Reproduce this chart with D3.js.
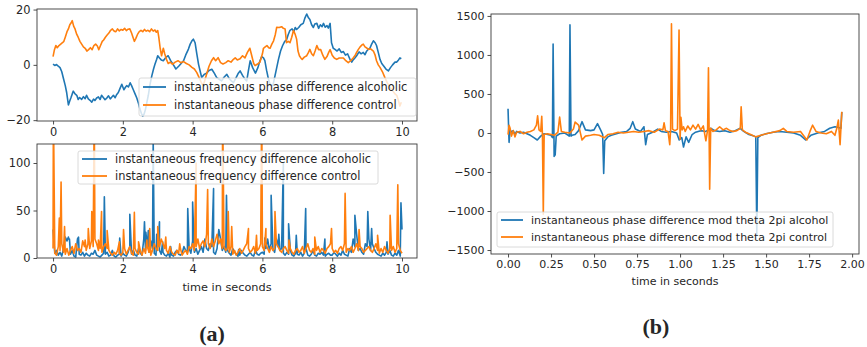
<!DOCTYPE html>
<html>
<head>
<meta charset="utf-8">
<script src="https://cdnjs.cloudflare.com/ajax/libs/d3/7.8.5/d3.min.js"></script>
<style>
body { margin: 0; background: #fff; }
text { font-family: "DejaVu Sans", sans-serif; fill: #262626; }
</style>
</head>
<body>
<div id="chart"></div>
<script>
var BLUE = "#1f77b4", ORANGE = "#ff7f0e"

// (a) top: instantaneous phase difference, [time s, value]
var phaseAlc = [[0,0.3],[0.05,-0.2],[0.1,0.1],[0.15,-0.5],[0.2,-1],[0.25,-2.5],[0.3,-5],[0.35,-7.5],[0.39,-10],[0.44,-14.5],[0.48,-13],[0.51,-12],[0.55,-10.5],[0.58,-9.5],[0.63,-10.5],[0.68,-11],[0.72,-12.5],[0.76,-11.8],[0.82,-12.5],[0.87,-11.5],[0.92,-12.2],[0.96,-11],[1.01,-12.3],[1.06,-12.8],[1.11,-13.5],[1.16,-12.4],[1.2,-12.9],[1.25,-12],[1.3,-11.6],[1.35,-12.5],[1.39,-11],[1.44,-11.8],[1.49,-12.6],[1.54,-12],[1.59,-11.2],[1.64,-12.3],[1.68,-11.7],[1.73,-11],[1.78,-11.9],[1.82,-10.8],[1.87,-10],[1.92,-8.5],[1.97,-7],[2.0,-8],[2.03,-9],[2.07,-8.2],[2.11,-7.5],[2.16,-8],[2.21,-6.5],[2.25,-7.5],[2.3,-9],[2.35,-10.5],[2.4,-12],[2.45,-14],[2.49,-16],[2.53,-17.5],[2.57,-18.5],[2.61,-17.8],[2.65,-16],[2.69,-13.5],[2.73,-11],[2.78,-7],[2.83,-4],[2.88,-1.5],[2.92,0.2],[2.97,2],[3.0,3.3],[3.05,2.5],[3.1,1.8],[3.16,1.5],[3.22,2.5],[3.3,3.3],[3.37,1.5],[3.45,0],[3.52,-1.5],[3.6,-0.5],[3.67,0.5],[3.74,1.5],[3.8,3.5],[3.88,5.7],[3.93,7.5],[3.98,8.7],[4.02,9.3],[4.07,8],[4.12,4],[4.17,0.2],[4.22,-2.5],[4.26,-4.6],[4.33,-3.5],[4.4,-3],[4.47,-2],[4.55,-1.6],[4.62,-3],[4.69,-4.6],[4.76,-5.2],[4.83,-5.8],[4.9,-4.5],[4.98,-3.4],[5.05,-5],[5.11,-5.8],[5.17,-6.4],[5.25,-4.5],[5.31,-3],[5.36,-2.2],[5.43,-3.8],[5.49,-5],[5.55,-5.8],[5.6,-2],[5.65,1.5],[5.72,-1],[5.8,-3],[5.87,-1],[5.93,1.5],[5.98,3],[6.03,2.5],[6.07,1.5],[6.12,-2],[6.17,-5],[6.22,-7],[6.3,-7.5],[6.36,-4],[6.41,-1],[6.46,2],[6.52,5],[6.58,7],[6.64,8.5],[6.69,9],[6.74,11],[6.79,12.5],[6.85,13],[6.9,12],[6.94,13.5],[6.98,12.8],[7.04,13.5],[7.1,14.5],[7.17,15],[7.22,17],[7.27,18.4],[7.32,17],[7.36,16.4],[7.41,14.5],[7.46,13.5],[7.5,14.8],[7.56,15],[7.61,13.2],[7.66,14.5],[7.71,13.8],[7.75,15],[7.8,13.6],[7.85,14.2],[7.89,13.3],[7.94,15],[7.98,8],[8.03,6],[8.08,5.6],[8.14,5],[8.2,5.8],[8.26,4.5],[8.32,4.8],[8.38,3.5],[8.44,4],[8.51,2],[8.56,1],[8.6,1.8],[8.65,2.5],[8.7,3.3],[8.77,4.7],[8.83,4],[8.89,4.5],[8.94,3.7],[8.98,4.8],[9.03,5.6],[9.08,6],[9.13,7.5],[9.18,8.7],[9.23,8],[9.27,7],[9.32,4.5],[9.37,2],[9.42,0.5],[9.47,-0.3],[9.54,-1.5],[9.61,-2.2],[9.67,-1],[9.73,0],[9.8,1],[9.85,1],[9.9,1.8],[9.94,2.5],[9.98,2.2]]

var phaseCtl = [[0,3],[0.04,5.5],[0.08,7],[0.12,6.2],[0.17,7],[0.22,7.5],[0.27,8],[0.31,8.5],[0.35,10],[0.4,12],[0.44,13],[0.48,14.5],[0.52,15.2],[0.55,16],[0.59,14],[0.63,13],[0.68,11],[0.72,10],[0.77,8.5],[0.82,7.5],[0.87,6.5],[0.92,6],[0.97,5],[1.02,5.5],[1.07,6.2],[1.12,5.5],[1.17,7],[1.22,7.5],[1.27,6.8],[1.31,5.5],[1.36,7],[1.41,8.5],[1.45,9],[1.5,10],[1.55,10.8],[1.6,11.5],[1.65,12.5],[1.7,13],[1.75,12.2],[1.8,12],[1.85,13],[1.9,12.3],[1.95,12.8],[2.0,12.5],[2.05,13.2],[2.1,12.4],[2.15,12.9],[2.2,13],[2.25,11.5],[2.29,10],[2.33,8.5],[2.37,9.5],[2.42,11],[2.47,12],[2.52,12.5],[2.57,12],[2.62,12.8],[2.67,12.2],[2.72,12.5],[2.77,12],[2.82,13],[2.87,12.2],[2.92,12.6],[2.96,11.8],[3.0,12.4],[3.03,10],[3.07,6],[3.11,3.3],[3.16,6],[3.2,4],[3.25,2],[3.3,0.5],[3.36,1],[3.42,0.2],[3.5,1],[3.58,1.5],[3.66,0.8],[3.74,1.2],[3.82,0.5],[3.9,0],[3.98,-0.9],[4.05,-1.5],[4.12,-2.8],[4.2,-5],[4.27,-7],[4.33,-6.5],[4.4,-3.4],[4.47,-0.5],[4.54,1.5],[4.6,2.6],[4.66,1.5],[4.73,2.6],[4.8,0.8],[4.87,0.3],[4.95,0.8],[5.02,1.5],[5.1,1],[5.17,2],[5.22,2.5],[5.28,1.8],[5.36,2.2],[5.43,3.3],[5.5,2.5],[5.57,4.5],[5.64,6],[5.7,3],[5.75,0.5],[5.79,-0.3],[5.86,0.3],[5.93,1],[6.0,4],[6.03,6],[6.08,6.5],[6.13,7],[6.18,6.2],[6.22,6],[6.27,7.5],[6.32,8.7],[6.37,11],[6.41,13.6],[6.48,13.5],[6.55,13.8],[6.6,13.2],[6.65,13],[6.69,8],[6.74,8.5],[6.79,8],[6.84,10],[6.89,12.4],[6.94,11],[6.98,9.3],[7.02,5],[7.06,3.3],[7.1,2.5],[7.14,2],[7.2,2.8],[7.27,3.3],[7.32,4.5],[7.36,5.6],[7.41,4],[7.46,3.3],[7.51,5],[7.56,7],[7.61,5.5],[7.67,5.5],[7.73,3.5],[7.79,2],[7.85,3],[7.9,4.5],[7.94,5.5],[8.0,3.5],[8.06,2.5],[8.13,2],[8.2,2.5],[8.26,2.5],[8.32,2.5],[8.39,1.5],[8.46,0.8],[8.53,1.5],[8.6,2.5],[8.66,3.5],[8.7,4.5],[8.75,5.6],[8.8,6.5],[8.85,7.2],[8.89,7.5],[8.94,6.5],[9.0,6],[9.04,5.6],[9.1,5.8],[9.18,5],[9.23,3.5],[9.27,1.5],[9.32,0],[9.37,-0.9],[9.44,-2.5],[9.51,-4.6],[9.58,-6.5],[9.66,-8.2],[9.74,-9.5],[9.8,-10.5],[9.85,-11],[9.9,-13],[9.94,-14.9],[9.98,-13.5]]

// (a) bottom: instantaneous frequency difference
// small background values, one every 0.05 s from 0 to 10 s
var FREQ_STEP = 0.05
var freqAlcBase = [
    30,5,8,3,6,2,10,22,18,20,4,8,2,1,20,4,3,6,2,5,
    3,2,5,4,8,3,2,1,3,5,4,6,2,3,8,2,1,3,4,2,
    5,3,2,6,12,4,8,3,2,10,5,3,20,8,12,6,18,10,5,3,
    12,8,4,6,3,2,5,1,3,2,6,8,4,3,5,12,8,6,10,5,
    18,6,10,4,8,12,6,20,10,8,15,12,6,4,10,30,20,8,12,6,
    8,5,3,10,6,4,2,3,8,5,3,2,4,6,3,2,8,4,3,5,
    6,4,10,20,8,15,10,6,20,12,8,10,5,3,6,4,8,3,2,5,
    4,3,6,2,5,10,3,2,4,8,3,2,5,4,6,3,2,4,5,3,
    3,6,4,2,5,3,8,4,3,2,10,6,20,12,25,8,10,6,4,15,
    12,20,8,15,10,6,4,3,2,5,3,6,4,8,3,2,5,3,8,2,30]
var freqCtlBase = [
    10,5,3,12,8,15,6,4,10,3,8,12,5,15,8,10,6,18,12,8,
    15,10,18,12,20,15,8,10,6,12,15,10,8,5,3,6,4,8,5,3,
    6,10,4,8,12,5,3,10,6,4,8,3,10,5,12,6,3,8,15,10,
    8,12,20,15,10,8,5,12,6,4,3,8,5,10,3,6,8,4,12,10,
    15,8,12,20,10,15,18,12,25,15,10,20,12,18,25,15,20,10,12,8,
    10,6,12,4,8,3,6,10,5,8,12,15,10,6,8,12,5,8,10,15,
    12,8,15,10,6,12,8,10,15,12,8,6,10,12,8,5,10,6,4,8,
    10,6,8,12,5,10,15,8,6,10,4,8,12,6,10,8,5,10,12,15,
    10,6,8,5,10,12,8,15,6,10,8,12,6,10,15,8,12,10,6,8,
    10,12,8,6,10,15,8,5,10,6,12,8,5,10,8,12,6,10,15,8,5]
// peaks, [time s, value]
var freqAlcPeaks = [[0.44,22],[0.47,20],[0.73,22],[1.47,64.5],[1.91,21],[2.2,46],[2.62,38],[2.66,27],[2.73,29],[2.87,125],[2.97,25],[3.05,38],[3.14,17],[3.37,12],[3.86,52],[4.0,59],[4.6,73],[4.97,66],[5.32,9],[6.07,21],[6.25,66],[6.47,25],[6.6,100],[6.75,36],[6.97,24],[7.24,52],[7.79,20],[8.65,45],[9.02,49],[9.13,31],[9.57,17],[9.97,58]]
var freqCtlPeaks = [[0.01,160],[0.18,42],[0.23,80],[0.33,33],[0.92,19],[1.01,31],[1.11,49],[1.18,160],[1.3,19],[1.39,49],[1.55,29],[1.9,17],[2.02,30],[2.33,48],[2.45,17],[2.69,19],[2.77,31],[3.0,33],[3.23,22],[3.63,15],[4.1,100],[4.43,72],[4.86,160],[5.02,49],[5.12,33],[5.6,31],[5.83,24],[5.98,160],[6.1,31],[6.36,49],[6.76,19],[7.5,22],[7.98,31],[8.37,68],[8.77,30],[9.3,24],[9.66,45],[9.88,77]]

// (b): phase difference mod theta 2pi, [time s, value]
var modAlc = [[0,310],[0.006,-120],[0.012,40],[0.02,10],[0.03,30],[0.04,-20],[0.05,20],[0.07,0],[0.09,10],[0.11,-10],[0.13,-30],[0.15,-60],[0.17,-90],[0.19,-40],[0.21,-10],[0.23,-20],[0.25,-30],[0.258,-60],[0.262,1140],[0.268,-300],[0.274,-280],[0.28,-40],[0.3,-10],[0.33,0],[0.35,-30],[0.356,-40],[0.36,1385],[0.366,-40],[0.372,-30],[0.39,-20],[0.41,30],[0.43,145],[0.45,40],[0.48,30],[0.5,40],[0.52,120],[0.54,30],[0.55,-20],[0.556,-520],[0.562,-100],[0.58,-50],[0.6,-30],[0.63,-10],[0.66,10],[0.69,20],[0.71,60],[0.725,145],[0.74,50],[0.77,20],[0.79,80],[0.8,-150],[0.81,-20],[0.84,10],[0.87,50],[0.89,20],[0.92,10],[0.95,20],[0.98,0],[0.995,-90],[1.01,-60],[1.02,-180],[1.035,-50],[1.05,-120],[1.07,-20],[1.09,10],[1.12,30],[1.15,20],[1.18,60],[1.2,30],[1.23,20],[1.26,30],[1.29,10],[1.32,30],[1.35,60],[1.37,20],[1.4,-20],[1.43,-40],[1.44,-50],[1.446,-1300],[1.452,-60],[1.47,-30],[1.5,-10],[1.54,10],[1.58,20],[1.62,10],[1.66,0],[1.7,-30],[1.73,-90],[1.76,-30],[1.8,0],[1.84,20],[1.87,60],[1.9,80],[1.92,70],[1.935,60],[1.94,270]]
var modCtl = [[0,-20],[0.006,100],[0.012,60],[0.02,-40],[0.03,30],[0.04,-50],[0.05,10],[0.07,20],[0.09,-10],[0.11,10],[0.13,20],[0.15,40],[0.165,100],[0.172,220],[0.18,40],[0.19,20],[0.196,215],[0.2,-30],[0.205,-1040],[0.21,-20],[0.23,-10],[0.25,-20],[0.27,-30],[0.29,10],[0.3,205],[0.31,20],[0.33,10],[0.36,0],[0.38,50],[0.39,140],[0.41,100],[0.43,-90],[0.45,-40],[0.48,-30],[0.5,-20],[0.53,-30],[0.56,-60],[0.58,-20],[0.61,-10],[0.64,10],[0.67,0],[0.7,10],[0.73,20],[0.76,10],[0.79,20],[0.82,30],[0.85,10],[0.88,50],[0.9,40],[0.907,130],[0.915,30],[0.93,20],[0.94,-150],[0.945,50],[0.95,1400],[0.956,50],[0.97,30],[0.985,50],[0.994,1320],[1.0,-80],[1.005,200],[1.012,40],[1.02,80],[1.03,20],[1.045,90],[1.06,40],[1.075,100],[1.09,50],[1.105,110],[1.12,40],[1.135,90],[1.15,-100],[1.16,40],[1.165,837],[1.172,-720],[1.178,60],[1.19,20],[1.21,40],[1.23,80],[1.25,40],[1.27,60],[1.29,30],[1.31,20],[1.33,30],[1.35,60],[1.355,335],[1.362,40],[1.38,10],[1.41,-20],[1.44,-50],[1.47,-30],[1.5,-10],[1.54,10],[1.58,30],[1.6,60],[1.62,20],[1.66,10],[1.7,20],[1.737,-90],[1.755,20],[1.77,100],[1.79,20],[1.82,0],[1.85,-10],[1.88,20],[1.9,-30],[1.91,50],[1.92,165],[1.93,-150],[1.94,273]]

var ticksA = [0, 2, 4, 6, 8, 10]
var ticksPhaseY = [-20, 0, 20]
var ticksFreqY = [0, 50, 100]
var ticksB = [0, 0.25, 0.5, 0.75, 1, 1.25, 1.5, 1.75, 2]
var ticksModY = [-1500, -1000, -500, 0, 500, 1000, 1500]

var legendPhase = ["instantaneous phase difference alcoholic", "instantaneous phase difference control"]
var legendFreq = ["instantaneous frequency difference alcoholic", "instantaneous frequency difference control"]
var legendMod = ["instantaneous phase difference mod theta 2pi alcohol", "instantaneous phase difference mod theta 2pi control"]

function withPeaks(base, step, peaks) {
    var pts = base.map(function (v, i) { return [i * step, v] })
    pts = pts.concat(peaks)
    pts.sort(function (a, b) { return a[0] - b[0] })
    return pts
}

var svg = d3.select("#chart").append("svg")
    .attr("width", 867)
    .attr("height", 347)

// one axes box: scales, clip, spines
function panel(id, box, xdom, ydom) {
    var x = d3.scaleLinear().domain(xdom).range([box.left, box.right])
    var y = d3.scaleLinear().domain(ydom).range([box.bottom, box.top])
    svg.append("clipPath").attr("id", id)
        .append("rect")
        .attr("x", box.left).attr("y", box.top)
        .attr("width", box.right - box.left).attr("height", box.bottom - box.top)
    var g = svg.append("g")
    var plot = g.append("g").attr("clip-path", "url(#" + id + ")")
    return {g: g, plot: plot, x: x, y: y, box: box}
}

function spines(p) {
    var b = p.box
    p.g.append("rect")
        .attr("x", b.left).attr("y", b.top)
        .attr("width", b.right - b.left).attr("height", b.bottom - b.top)
        .attr("fill", "none").attr("stroke", "#3a3a3a").attr("stroke-width", 0.9)
}

function styleAxis(sel, size) {
    sel.select(".domain").remove()
    sel.selectAll("line").attr("stroke", "#3a3a3a").attr("stroke-width", 0.9)
    sel.selectAll("text").style("font-size", size + "px").attr("fill", "#262626")
        .style("font-family", "DejaVu Sans")
}

function axes(p, xticks, xfmt, yticks, yfmt, size) {
    p.g.append("g")
        .attr("transform", "translate(0," + p.box.bottom + ")")
        .call(d3.axisBottom(p.x).tickValues(xticks).tickFormat(xfmt)
            .tickSize(3.5).tickPadding(3).tickSizeOuter(0))
        .call(styleAxis, size)
    p.g.append("g")
        .attr("transform", "translate(" + p.box.left + ",0)")
        .call(d3.axisLeft(p.y).tickValues(yticks).tickFormat(yfmt)
            .tickSize(3.5).tickPadding(3).tickSizeOuter(0))
        .call(styleAxis, size)
}

function series(p, data, color) {
    var line = d3.line()
        .x(function (d) { return p.x(d[0]) })
        .y(function (d) { return p.y(d[1]) })
    p.plot.append("path")
        .datum(data)
        .attr("d", line)
        .attr("fill", "none")
        .attr("stroke", color)
        .attr("stroke-width", 1.6)
        .attr("stroke-linejoin", "round")
}

function legend(box, labels, size) {
    var g = svg.append("g")
    g.append("rect")
        .attr("x", box.x).attr("y", box.y).attr("width", box.w).attr("height", box.h)
        .attr("rx", 2).attr("fill", "#fff").attr("fill-opacity", 0.8)
        .attr("stroke", "#d0d0d0").attr("stroke-width", 0.8)
    var colors = [BLUE, ORANGE]
    labels.forEach(function (txt, i) {
        var yy = box.y + box.first + i * box.gap
        g.append("line")
            .attr("x1", box.x + 4).attr("x2", box.x + 4 + box.line)
            .attr("y1", yy).attr("y2", yy)
            .attr("stroke", colors[i]).attr("stroke-width", 1.8)
        g.append("text")
            .attr("x", box.x + box.line + 12).attr("y", yy).attr("dy", "0.36em")
            .style("font-size", size + "px")
            .text(txt)
    })
}

var fmtInt = d3.format("d")

// (a) top
var pa = panel("clipA1", {left: 37, right: 417, top: 9, bottom: 121}, [-0.46, 10.43], [-20.3, 20.2])
series(pa, phaseAlc, BLUE)
series(pa, phaseCtl, ORANGE)
spines(pa)
axes(pa, ticksA, fmtInt, ticksPhaseY, fmtInt, 11.4)
legend({x: 139, y: 78, w: 277, h: 38, first: 9, gap: 18, line: 23}, legendPhase, 11.4)

// (a) bottom
var pf = panel("clipA2", {left: 37, right: 417, top: 144, bottom: 258}, [-0.46, 10.43], [0, 120])
series(pf, withPeaks(freqAlcBase, FREQ_STEP, freqAlcPeaks), BLUE)
series(pf, withPeaks(freqCtlBase, FREQ_STEP, freqCtlPeaks), ORANGE)
spines(pf)
axes(pf, ticksA, fmtInt, ticksFreqY, fmtInt, 11.4)
legend({x: 78, y: 151, w: 300, h: 33, first: 8, gap: 17, line: 25}, legendFreq, 11.4)

svg.append("text").attr("x", 227).attr("y", 291).attr("text-anchor", "middle")
    .style("font-size", "11.3px").text("time in seconds")

// (b)
var pb = panel("clipB", {left: 491, right: 859, top: 14, bottom: 254}, [-0.099, 2.04], [-1551, 1525])
series(pb, modAlc, BLUE)
series(pb, modCtl, ORANGE)
spines(pb)
axes(pb, ticksB, d3.format(".2f"), ticksModY, fmtInt, 11)
legend({x: 497, y: 212, w: 336, h: 35, first: 8, gap: 17, line: 22}, legendMod, 11)

svg.append("text").attr("x", 675).attr("y", 285).attr("text-anchor", "middle")
    .style("font-size", "11px").text("time in seconds")

// sub-figure captions
svg.append("text").attr("x", 212).attr("y", 341).attr("text-anchor", "middle")
    .style("font-family", "Liberation Serif").style("font-weight", "bold").style("font-size", "22px")
    .attr("fill", "#111").text("(a)")
svg.append("text").attr("x", 656).attr("y", 334).attr("text-anchor", "middle")
    .style("font-family", "Liberation Serif").style("font-weight", "bold").style("font-size", "22px")
    .attr("fill", "#111").text("(b)")
</script>
</body>
</html>
